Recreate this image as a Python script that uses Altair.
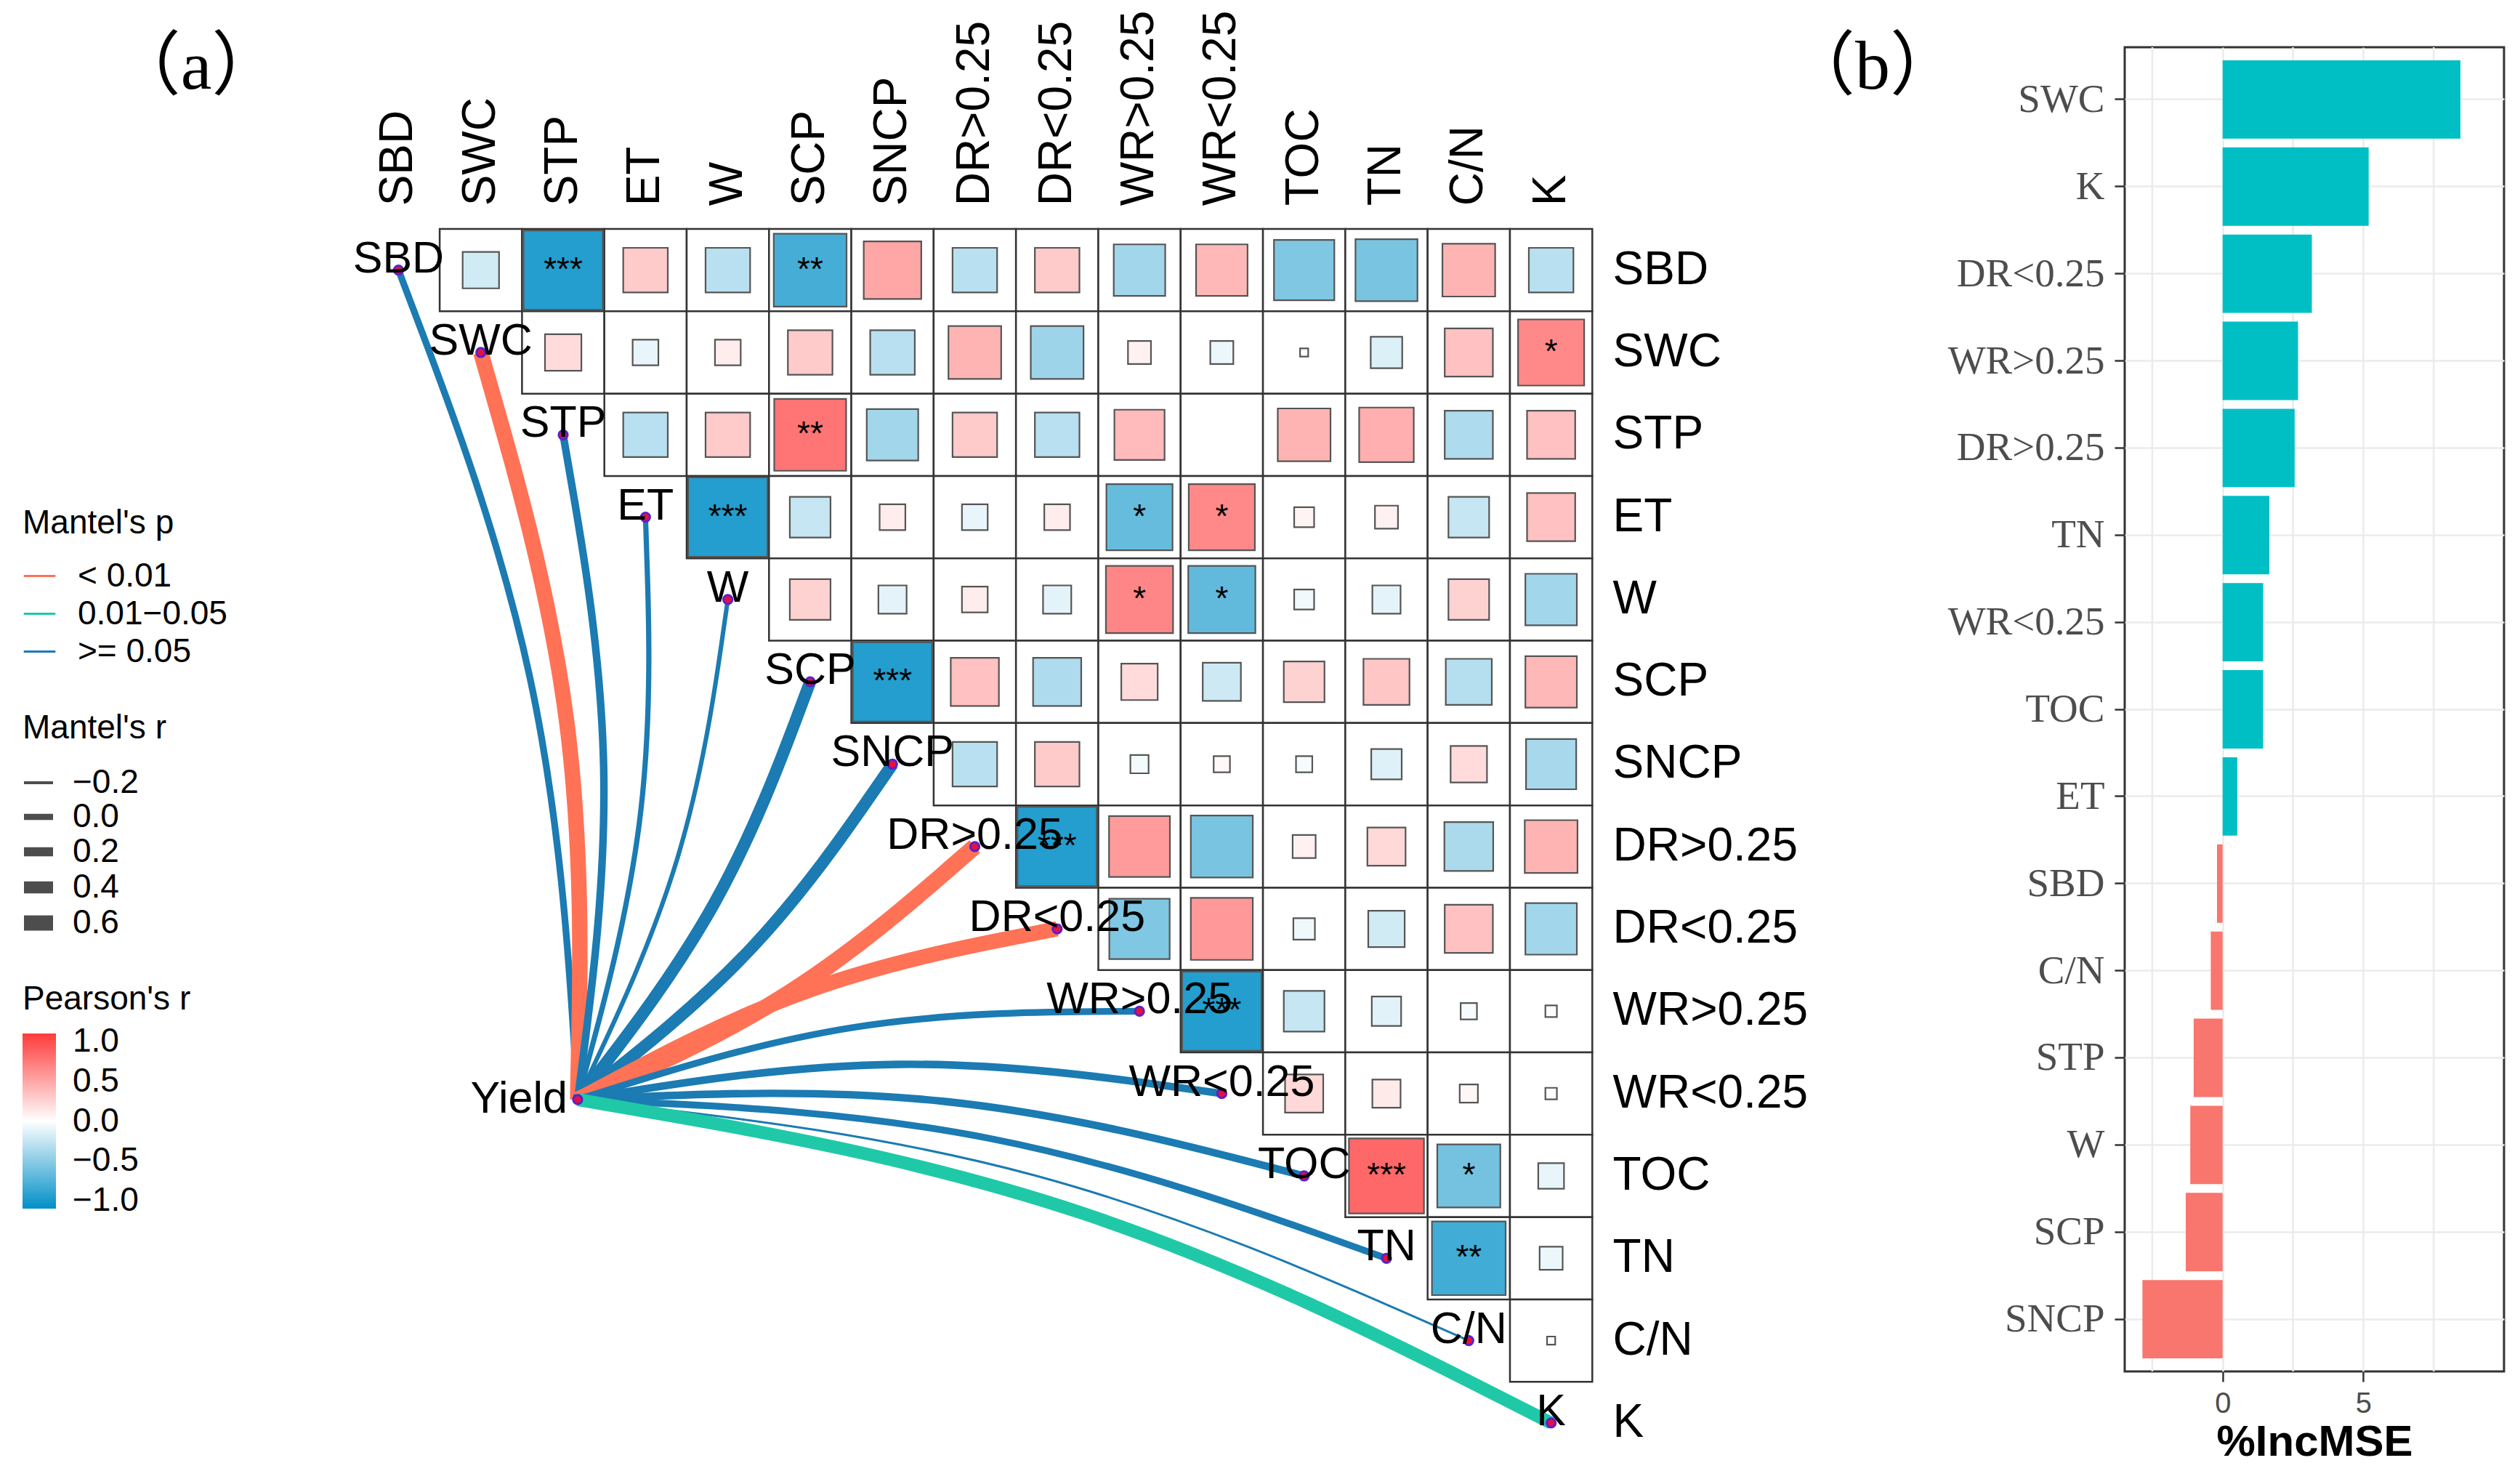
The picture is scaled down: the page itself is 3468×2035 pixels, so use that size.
import math
import altair as alt
import pandas as pd

# ---------------- data ----------------
variables = ["SBD", "SWC", "STP", "ET", "W", "SCP", "SNCP", "DR>0.25", "DR<0.25",
             "WR>0.25", "WR<0.25", "TOC", "TN", "C/N", "K"]

# Pearson's r, upper triangle, row i -> columns i+1 .. 14
pearson_r = [
    [-0.20, -0.95, 0.30, -0.30, -0.80, 0.50, -0.30, 0.30, -0.40, 0.40, -0.55, -0.58, 0.42, -0.30],
    [0.20, -0.10, 0.10, 0.30, -0.30, 0.42, -0.42, 0.08, -0.08, 0.01, -0.15, 0.35, 0.66],
    [-0.30, 0.30, 0.78, -0.40, 0.30, -0.30, 0.38, 0.00, 0.42, 0.45, -0.35, 0.35],
    [-0.95, -0.25, 0.10, -0.10, 0.10, -0.66, 0.66, 0.06, 0.08, -0.25, 0.35],
    [0.25, -0.12, 0.10, -0.12, 0.68, -0.68, -0.06, -0.12, 0.25, -0.40],
    [-0.95, 0.35, -0.35, 0.20, -0.22, 0.25, 0.32, -0.32, 0.40],
    [-0.30, 0.30, -0.05, 0.04, -0.04, -0.14, 0.20, -0.38],
    [-0.95, 0.56, -0.58, 0.08, 0.22, -0.36, 0.42],
    [-0.55, 0.58, -0.07, -0.20, 0.35, -0.40],
    [-0.95, -0.25, -0.13, -0.04, -0.02],
    [0.22, 0.12, 0.05, 0.02],
    [0.85, -0.60, -0.10],
    [-0.82, -0.08],
    [0.01],
]

signif_pairs = ["SBD|STP", "SBD|SCP", "SWC|K", "STP|SCP", "ET|W", "ET|WR>0.25", "ET|WR<0.25",
                "W|WR>0.25", "W|WR<0.25", "SCP|SNCP", "DR>0.25|DR<0.25", "WR>0.25|WR<0.25",
                "TOC|TN", "TOC|C/N", "TN|C/N"]
signif_marks = ["***", "**", "*", "**", "***", "*", "*", "*", "*", "***", "***", "***", "***", "*", "**"]

# Mantel test of Yield vs each variable
mantel_r = [0.05, 0.62, 0.10, -0.05, -0.10, 0.40, 0.40, 0.68, 0.60, 0.05, 0.10, 0.10, 0.05, -0.25, 0.45]
mantel_p = [">= 0.05", "< 0.01", ">= 0.05", ">= 0.05", ">= 0.05", ">= 0.05", ">= 0.05", "< 0.01",
            "< 0.01", ">= 0.05", ">= 0.05", ">= 0.05", ">= 0.05", ">= 0.05", "0.01\u22120.05"]
p_classes = ["< 0.01", "0.01\u22120.05", ">= 0.05"]
p_colors = ["#FF7256", "#1FC9A8", "#1B7BB2"]
mantel_r_breaks = [-0.2, 0.0, 0.2, 0.4, 0.6]

# Random forest importance
imp_vars = ["SWC", "K", "DR<0.25", "WR>0.25", "DR>0.25", "TN", "WR<0.25", "TOC", "ET",
            "SBD", "C/N", "STP", "W", "SCP", "SNCP"]
imp_vals = [8.45, 5.19, 3.17, 2.68, 2.56, 1.66, 1.44, 1.44, 0.52, -0.20, -0.42, -1.03, -1.15, -1.31, -2.85]
minor_grid = [-2.5, 2.5, 7.5]

# ---------------- layout ----------------
CELL = 113.3
A_W, A_H = 2532, 1936
X_DOMAIN = [-4.77, -4.77 + A_W / CELL]
Y_DOMAIN = [-3.21, -3.21 + A_H / CELL]
YIELD_XY = (2.176, 10.073)
SANS = "Liberation Sans"


def X(f):
    return alt.X(f, type="quantitative", axis=None,
                 scale=alt.Scale(domain=X_DOMAIN, nice=False, zero=False))


def Y(f):
    return alt.Y(f, type="quantitative", axis=None,
                 scale=alt.Scale(domain=Y_DOMAIN, nice=False, zero=False, reverse=True))


def py_to_data(p):
    # pixel offset inside panel (a) -> y data unit
    return Y_DOMAIN[0] + p / CELL


legend_common = dict(orient="none", padding=0, labelFontSize=46, titleFontSize=46,
                     titleFontWeight="normal", labelFont=SANS, titleFont=SANS,
                     labelColor="black", titleColor="black", labelLimit=600, titleLimit=600)

star_map = dict(zip(signif_pairs, signif_marks))
cells = []
for i, row in enumerate(pearson_r):
    for k, r in enumerate(row):
        j = i + 1 + k
        cells.append(dict(rv=variables[i], cv=variables[j], cx=j, ry=i, r=r, absr=abs(r),
                          x1=j - 0.5, x2=j + 0.5, y1=i - 0.5, y2=i + 0.5,
                          star=star_map.get(variables[i] + "|" + variables[j], "")))
cells_df = pd.DataFrame(cells)

links = []
for k, v in enumerate(variables):
    x0, y0 = YIELD_XY
    xe, ye = float(k), float(k)
    dx, dy = xe - x0, ye - y0
    s = 1 if math.degrees(math.atan2(-dy, dx)) > 25 else -1
    cxp = (x0 + xe) / 2 + s * 0.075 * (-dy)
    cyp = (y0 + ye) / 2 + s * 0.075 * dx
    for t, (px, py) in enumerate([(x0, y0), (cxp, cyp), (xe, ye)]):
        links.append(dict(var=v, t=t, x=px, y=py, p=mantel_p[k], mr=mantel_r[k]))
links_df = pd.DataFrame(links)

nodes_df = pd.DataFrame({"var": variables, "x": list(range(15)), "y": list(range(15))})
yield_df = pd.DataFrame({"var": ["Yield"], "x": [YIELD_XY[0]], "y": [YIELD_XY[1]]})

common_text = dict(font=SANS, color="black")
width_scale = alt.Scale(domain=[-0.25, 0.7], range=[3, 23], zero=False)

grid = alt.Chart(cells_df).mark_rect(fill="white", stroke="#333333", strokeWidth=2.5).encode(
    x=X("x1"), x2=alt.X2("x2"), y=Y("y1"), y2=alt.Y2("y2"))

squares = alt.Chart(cells_df).transform_filter("datum.absr > 0").mark_square(
    filled=True, stroke="#555555", strokeWidth=2.2, opacity=1).encode(
    x=X("cx"), y=Y("ry"),
    fill=alt.Fill("r:Q", scale=alt.Scale(domain=[-1.1, 0, 1.1], range=["#008FC7", "#FFFFFF", "#FF3B3B"],
                                          interpolate="rgb"),
                  legend=alt.Legend(title="Pearson's r", legendX=23, legendY=1345,
                                    direction="vertical", gradientLength=241, gradientThickness=46,
                                    values=[-1, -0.5, 0, 0.5, 1], format=".1f", labelOffset=23,
                                    titlePadding=23, gradientStrokeWidth=0, labelOverlap=False,
                                    **legend_common)),
    size=alt.Size("absr:Q", scale=alt.Scale(domain=[0, 1], range=[0, 12544], zero=True), legend=None))

stars = alt.Chart(cells_df).transform_filter("datum.star != ''").mark_text(
    fontSize=46, baseline="middle", align="center", **common_text).encode(
    x=X("cx"), y=Y("ry"), text="star:N")

curves = alt.Chart(links_df).mark_line(interpolate="basis").encode(
    x=X("x"), y=Y("y"), detail="var:N", order="t:Q",
    color=alt.Color("p:N", scale=alt.Scale(domain=p_classes, range=p_colors),
                    legend=alt.Legend(title="Mantel's p", legendX=23, legendY=690,
                                      symbolType="stroke", symbolSize=1900, symbolStrokeWidth=3,
                                      labelOffset=29, rowPadding=5, titlePadding=25,
                                      **legend_common)),
    strokeWidth=alt.StrokeWidth("mr:Q", scale=width_scale, legend=None))

# Mantel's r key (uses the same stroke-width scale as the links)
key_rows_px = [1069, 1116, 1164, 1213, 1262]
key_df = pd.DataFrame({"mr": mantel_r_breaks, "ly": [py_to_data(p) for p in key_rows_px]})
key_title_df = pd.DataFrame({"t": ["Mantel's r"], "ly": [py_to_data(994)]})
key_lines = alt.Chart(key_df).mark_rule(color="#4D4D4D").encode(
    x=alt.value(25), x2=alt.value(65), y=Y("ly"),
    strokeWidth=alt.StrokeWidth("mr:Q", scale=width_scale, legend=None))
key_labels = alt.Chart(key_df).mark_text(align="left", baseline="middle", fontSize=46,
                                         **common_text).encode(
    x=alt.value(92), y=Y("ly"), text=alt.Text("mr:Q", format=".1f"))
key_title = alt.Chart(key_title_df).mark_text(align="left", baseline="middle", fontSize=46,
                                              **common_text).encode(
    x=alt.value(23), y=Y("ly"), text="t:N")

node_pts = alt.Chart(pd.concat([nodes_df, yield_df])).mark_point(
    filled=True, shape="circle", fill="#E8103A", stroke="#5A20D0", strokeWidth=3, size=150, opacity=1).encode(
    x=X("x"), y=Y("y"))

diag_labels = alt.Chart(nodes_df).mark_text(fontSize=61, align="center", baseline="middle", dy=-15,
                                            **common_text).encode(x=X("x"), y=Y("y"), text="var:N")
yield_label = alt.Chart(yield_df).mark_text(fontSize=61, align="right", baseline="middle", dx=-14,
                                            **common_text).encode(x=X("x"), y=Y("y"), text="var:N")

top_df = pd.DataFrame({"var": variables, "x": list(range(15)), "y": [-0.78] * 15})
right_df = pd.DataFrame({"var": variables, "x": [14.75] * 15, "y": list(range(15))})
top_labels = alt.Chart(top_df).mark_text(angle=270, align="left", baseline="middle", fontSize=64,
                                         **common_text).encode(
    x=X("x"), y=Y("y"), text="var:N")
right_labels = alt.Chart(right_df).mark_text(align="left", baseline="middle", fontSize=64,
                                             **common_text).encode(
    x=X("x"), y=Y("y"), text="var:N")

tags_df = pd.DataFrame({"tag": ["\uff08a\uff09", "\uff08b\uff09"]})
tag_font = "Liberation Serif, Noto Sans CJK SC"
tag_a = alt.Chart(tags_df.iloc[[0]]).mark_text(fontSize=96, font=tag_font, align="center",
                                               baseline="middle", color="black").encode(
    x=alt.value(262), y=alt.value(85), text="tag:N")
tag_b = alt.Chart(tags_df.iloc[[1]]).mark_text(fontSize=96, font=tag_font, align="center",
                                               baseline="middle", color="black").encode(
    x=alt.value(2569), y=alt.value(85), text="tag:N")

panel_a = alt.layer(grid, squares, stars, curves, node_pts, diag_labels, yield_label,
                    top_labels, right_labels, key_lines, key_labels, key_title,
                    tag_a, tag_b).properties(
    width=A_W, height=A_H, view=alt.ViewBackground(stroke="transparent", strokeWidth=0))

# ---------------- panel b ----------------
imp_df = pd.DataFrame({"var": imp_vars, "val": imp_vals,
                       "sign": ["pos" if v > 0 else "neg" for v in imp_vals]})
minor_df = pd.DataFrame({"g": minor_grid})
xscale_b = alt.Scale(domain=[-3.48, 10.0], nice=False, zero=False)

minor_rules = alt.Chart(minor_df).mark_rule(color="#EBEBEB", strokeWidth=2.5).encode(
    x=alt.X("g:Q", scale=xscale_b))

bars = alt.Chart(imp_df).mark_bar().encode(
    y=alt.Y("var:N", sort=imp_vars, scale=alt.Scale(paddingInner=0.1, paddingOuter=0.15),
            axis=alt.Axis(title=None, labelFont="Liberation Serif", labelFontSize=55,
                          labelColor="#4D4D4D", tickColor="#333333", tickSize=14, tickWidth=2.5,
                          domain=False, grid=True, gridColor="#EBEBEB", gridWidth=2.5,
                          labelPadding=14, bandPosition=0.5, labelLimit=600)),
    x=alt.X("val:Q", scale=xscale_b,
            axis=alt.Axis(values=[0, 5], title="%IncMSE", labelFont=SANS, labelFontSize=40,
                          labelColor="#4D4D4D", tickColor="#333333", tickSize=14, tickWidth=2.5,
                          domain=False, grid=True, gridColor="#EBEBEB", gridWidth=2.5,
                          labelPadding=10, titleFont=SANS, titleFontSize=60, titleFontWeight="bold",
                          titleColor="black", titlePadding=4)),
    x2=alt.datum(0),
    fill=alt.Fill("sign:N", scale=alt.Scale(domain=["pos", "neg"], range=["#00BFC4", "#F8766D"]),
                  legend=None))

panel_b = alt.layer(minor_rules, bars).properties(
    width=522, height=1822, view=alt.ViewBackground(stroke="#333333", strokeWidth=3))

chart = alt.hconcat(panel_a, panel_b, spacing=384, bounds="flush", center=True).resolve_scale(
    color="independent", fill="independent").properties(
    padding=0).configure_view(strokeWidth=0).configure(font=SANS)

chart.save("out.html", embed_options={"renderer": "svg", "actions": False})
